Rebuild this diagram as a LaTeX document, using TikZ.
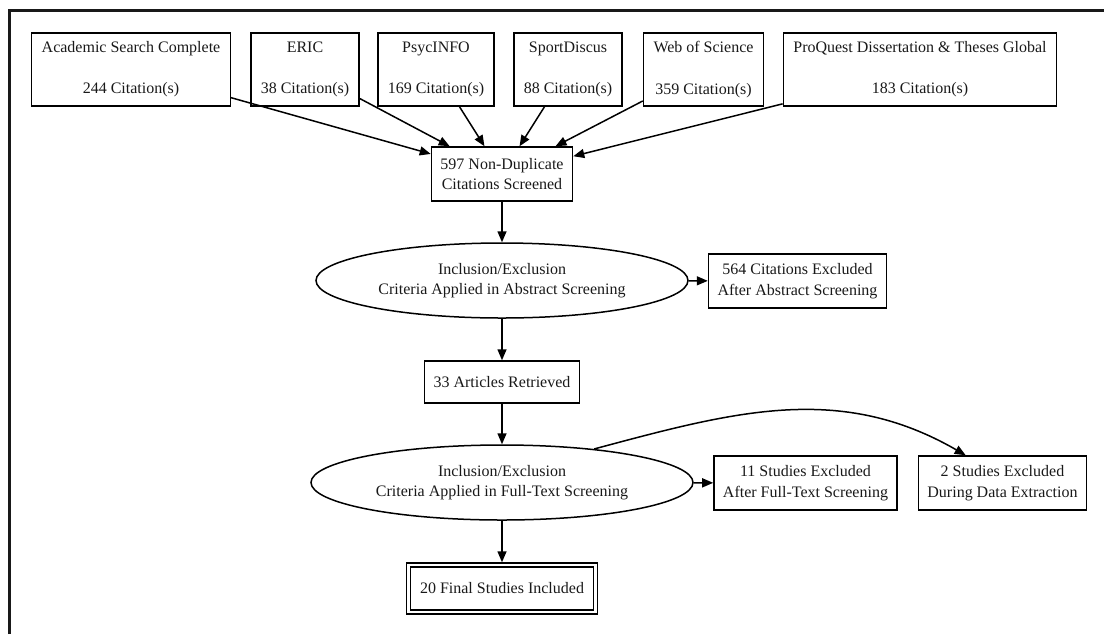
\documentclass[tikz,border=0pt]{standalone}
\usepackage{fontspec}
\setmainfont{Liberation Serif}
\usetikzlibrary{arrows.meta,shapes.geometric}

\begin{document}
\begin{tikzpicture}[x=0.5pt,y=-0.5pt,>={Triangle[length=5.5pt,width=4.5pt]},
  every node/.style={font=\fontsize{8}{10.3}\selectfont,align=center,text=black!90},
  src/.style={draw,line width=0.75pt,minimum height=36.5pt,inner xsep=5pt,inner ysep=0pt},
  box/.style={draw,line width=0.75pt,minimum height=27pt,inner xsep=4.5pt,inner ysep=0pt},
  crit/.style={ellipse,draw,line width=0.75pt,minimum height=37.5pt,inner sep=0pt},
  flow/.style={->,line width=0.75pt}]
  \useasboundingbox (0,0) rectangle (1104,634);
  \draw[line width=1.5pt,black!90] (9,634) -- (9,10) -- (1104,10);

  % databases
  \node[src] (asc)   at (131,69.5)   {Academic Search Complete\\[10.3pt]244 Citation(s)};
  \node[src] (eric)  at (305,69.5)   {ERIC\\[10.3pt]38 Citation(s)};
  \node[src] (psyc)  at (436,69.5)   {PsycINFO\\[10.3pt]169 Citation(s)};
  \node[src] (sport) at (568,69.5)   {SportDiscus\\[10.3pt]88 Citation(s)};
  \node[src] (wos)   at (703.5,69.5) {Web of Science\\[10.3pt]359 Citation(s)};
  \node[src] (pq)    at (920,69.5)   {ProQuest Dissertation \& Theses Global\\[10.3pt]183 Citation(s)};

  \node[box] (dup) at (502,174) {597 Non-Duplicate\\Citations Screened};
  \foreach \db in {asc,eric,psyc,sport,wos,pq}
    \draw[flow] (\db) -- (dup);

  % abstract screening
  \node[crit,minimum width=186pt] (abs) at (502,280.5) {Inclusion/Exclusion\\Criteria Applied in Abstract Screening};
  \node[box] (exa) at (797.5,281) {564 Citations Excluded\\After Abstract Screening};
  \node[box,minimum height=21pt] (art) at (502,382) {33 Articles Retrieved};
  \draw[flow] (dup) -- (abs);
  \draw[flow] (abs) -- (exa);
  \draw[flow] (abs) -- (art);

  % full-text screening
  \node[crit,minimum width=191pt] (ft) at (502,482.5) {Inclusion/Exclusion\\Criteria Applied in Full-Text Screening};
  \node[box] (exf) at (805.5,483) {11 Studies Excluded\\After Full-Text Screening};
  \node[box] (exd) at (1002.5,483) {2 Studies Excluded\\During Data Extraction};
  \node[draw,double,line width=0.75pt,double distance=1.3pt,minimum width=93.5pt,minimum height=23.5pt]
    (fin) at (502,588.5) {20 Final Studies Included};
  \draw[flow] (art) -- (ft);
  \draw[flow] (ft) -- (exf);
  \draw[flow,shorten >=1pt] (ft) -- (fin);
  \draw[flow] (ft.20) to[out=15,in=150] (exd.143);
\end{tikzpicture}
\end{document}
